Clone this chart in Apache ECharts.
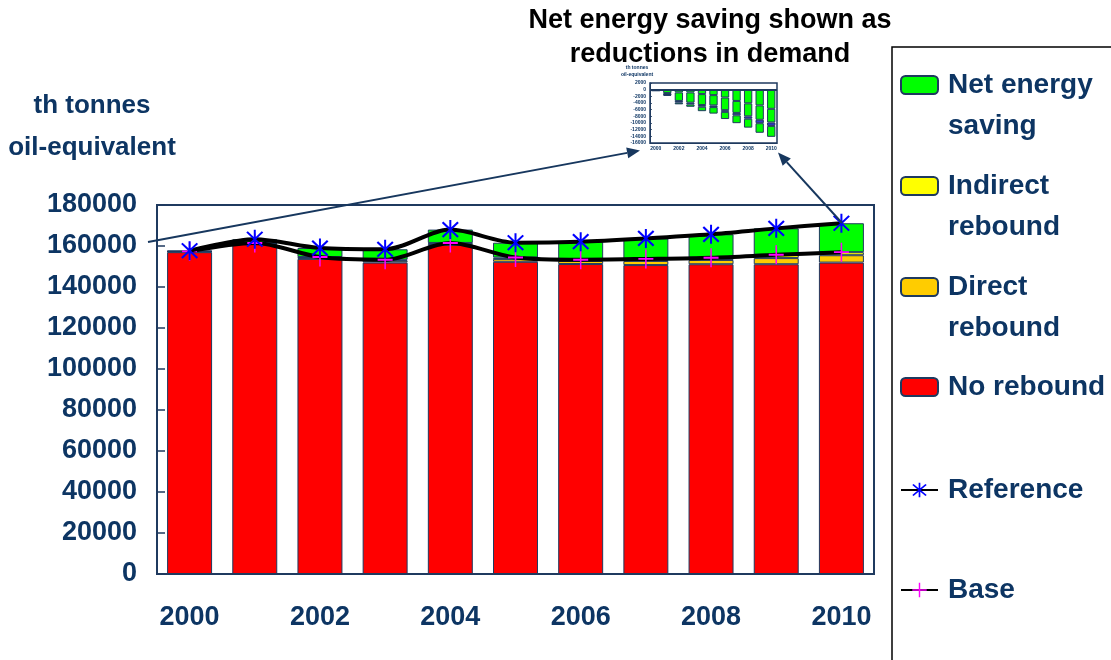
<!DOCTYPE html>
<html>
<head>
<meta charset="utf-8">
<script src="https://cdn.jsdelivr.net/npm/echarts@6/dist/echarts.min.js"></script>
<style>
  html, body { margin: 0; padding: 0; background: #ffffff; }
  #chart { width: 1111px; height: 660px; }
</style>
</head>
<body>
<div id="chart"></div>
<script>
// ---- data ----
const years = ['2000','2001','2002','2003','2004','2005','2006','2007','2008','2009','2010'];
const noRebound       = [157000, 161000, 153700, 151900, 160500, 152300, 151200, 150700, 151100, 151100, 151900];
const directRebound   = [300, 300, 600, 900, 700, 1400, 1500, 2000, 2100, 3000, 3600];
const indirectRebound = [100, 150, 300, 500, 300, 700, 600, 1000, 1100, 1600, 1500];
const netSaving       = [300, 1850, 4400, 5100, 6500, 7200, 8800, 10000, 11400, 12900, 14100];
const reference       = [157700, 163300, 159000, 158400, 168000, 161600, 162100, 163700, 165700, 168600, 171100];
const base            = [157400, 161450, 154600, 153300, 161500, 154400, 153300, 153700, 154300, 155700, 157000];
// inset: net saving shown as reductions in demand (stacked parts)
const insetPart1 = [0, -1030, -820, -820, -1330, -1640, -2360, -3380, -4100, -4720, -5740];
const insetPart2 = [0, -410, -2560, -3080, -3280, -3080, -3790, -3590, -3900, -4310, -4100];
const insetPart3 = [-300, -100, -510, -510, -510, -510, -510, -720, -720, -1030, -1030];
const insetPart4 = [0, -310, -510, -720, -1330, -1950, -2150, -2360, -2670, -2870, -3280];
const mainYTicks  = { min: 0, max: 180000, interval: 20000 };
const insetYTicks = { min: -16000, max: 2000, interval: 2000 };
const legendLabels = {
  'Net energy saving': 'Net energy\nsaving',
  'Indirect rebound': 'Indirect\nrebound',
  'Direct rebound': 'Direct\nrebound',
  'No rebound': 'No rebound',
  'Reference': 'Reference',
  'Base': 'Base'
};

// ---- styling ----
const NAVY = '#0d3563';
const EDGE = '#1f3a5f';
const FONT = '"Liberation Sans", Arial, Helvetica, sans-serif';
const STAR = 'path://M9,0 L11,0 L11,20 L9,20 Z M1.5,3 L3,1.5 L18.5,17 L17,18.5 Z M17,1.5 L18.5,3 L3,18.5 L1.5,17 Z';
const PLUS = 'path://M9,0 L11,0 L11,20 L9,20 Z M0,9 L20,9 L20,11 L0,11 Z';

const chart = echarts.init(document.getElementById('chart'), null, { renderer: 'canvas' });

function barSeries(name, data, color) {
  return {
    name: name, type: 'bar', stack: 'main', data: data,
    xAxisIndex: 0, yAxisIndex: 0,
    barCategoryGap: '31%',
    itemStyle: { color: color, borderColor: EDGE, borderWidth: 1 },
    emphasis: { disabled: true }
  };
}
function insetSeries(name, data, color, withZero) {
  const s = {
    name: name, type: 'bar', stack: 'inset', data: data,
    xAxisIndex: 1, yAxisIndex: 1,
    barCategoryGap: '28%',
    itemStyle: { color: color, borderColor: EDGE, borderWidth: 1 },
    emphasis: { disabled: true }
  };
  if (withZero) {
    s.markLine = {
      silent: true, symbol: 'none', animation: false,
      data: [{ yAxis: 0 }],
      label: { show: false },
      lineStyle: { color: EDGE, width: 2, type: 'solid' }
    };
  }
  return s;
}
function legendItem(name, c) {
  const two = legendLabels[name].indexOf('\n') >= 0;
  return {
    data: [name], left: 900, top: two ? c - 61.5 : c - 20.5,
    padding: 0, itemWidth: 37, itemHeight: 18, itemGap: 0,
    selectedMode: false,
    // a blank first line keeps the first text line level with the icon
    formatter: function (n) { return two ? ' \n' + legendLabels[n] : legendLabels[n]; },
    textStyle: {
      color: NAVY, fontSize: 28, fontWeight: 'bold', fontFamily: FONT,
      lineHeight: 41, padding: [0, 0, 0, 5]
    }
  };
}
function arrow(x1, y1, x2, y2) {
  const a = Math.atan2(y2 - y1, x2 - x1), L = 13, W = 5.5;
  const bx = x2 - L * Math.cos(a), by = y2 - L * Math.sin(a);
  const px = -Math.sin(a) * W, py = Math.cos(a) * W;
  return [
    { type: 'line', silent: true, shape: { x1: x1, y1: y1, x2: bx, y2: by },
      style: { stroke: '#17375e', lineWidth: 2 }, z: 20 },
    { type: 'polygon', silent: true,
      shape: { points: [[x2, y2], [bx + px, by + py], [bx - px, by - py]] },
      style: { fill: '#17375e' }, z: 20 }
  ];
}
const plain = function (v) { return String(v); };

const option = {
  animation: false,
  backgroundColor: '#ffffff',
  textStyle: { fontFamily: FONT },
  grid: [
    { left: 157, right: 237, top: 205, bottom: 86, show: true, borderColor: EDGE, borderWidth: 2, backgroundColor: '#ffffff' },
    { left: 650, top: 83, width: 127, height: 60, show: true, borderColor: EDGE, borderWidth: 1.5, backgroundColor: '#ffffff' }
  ],
  xAxis: [
    { type: 'category', data: years, gridIndex: 0,
      axisLine: { lineStyle: { color: EDGE, width: 2 } },
      axisTick: { show: false },
      axisLabel: { interval: 1, margin: 30, color: NAVY, fontSize: 27, fontWeight: 'bold', fontFamily: FONT }
    },
    { type: 'category', data: years, gridIndex: 1,
      axisLine: { onZero: false, lineStyle: { color: EDGE, width: 1 } },
      axisTick: { show: false },
      axisLabel: { interval: 1, margin: 3, color: NAVY, fontSize: 5, fontWeight: 'bold', fontFamily: FONT }
    }
  ],
  yAxis: [
    { type: 'value', gridIndex: 0, min: mainYTicks.min, max: mainYTicks.max, interval: mainYTicks.interval,
      name: 'th tonnes\noil-equivalent', nameLocation: 'end', nameGap: 36,
      nameTextStyle: { color: NAVY, fontSize: 26, fontWeight: 'bold', fontFamily: FONT, lineHeight: 42,
                       align: 'center', padding: [0, 130, 0, 0] },
      axisLine: { show: true, lineStyle: { color: EDGE, width: 2 } },
      axisTick: { show: true, inside: true, length: 8, lineStyle: { color: EDGE, width: 1.5 } },
      splitLine: { show: false },
      axisLabel: { margin: 20, color: NAVY, fontSize: 27, fontWeight: 'bold', fontFamily: FONT, formatter: plain }
    },
    { type: 'value', gridIndex: 1, min: insetYTicks.min, max: insetYTicks.max, interval: insetYTicks.interval,
      name: 'th tonnes\noil-equivalent', nameLocation: 'end', nameGap: 5,
      nameTextStyle: { color: NAVY, fontSize: 5, fontWeight: 'bold', fontFamily: FONT, lineHeight: 7,
                       align: 'center', padding: [0, 26, 0, 0] },
      axisLine: { show: true, lineStyle: { color: EDGE, width: 1 } },
      axisTick: { show: true, inside: true, length: 2, lineStyle: { color: EDGE, width: 0.8 } },
      splitLine: { show: false },
      axisLabel: { margin: 4, color: NAVY, fontSize: 5, fontWeight: 'bold', fontFamily: FONT, formatter: plain }
    }
  ],
  legend: [
    legendItem('Net energy saving', 85),
    legendItem('Indirect rebound', 186),
    legendItem('Direct rebound', 287),
    legendItem('No rebound', 387),
    legendItem('Reference', 490),
    legendItem('Base', 590)
  ],
  series: [
    barSeries('No rebound', noRebound, '#ff0000'),
    barSeries('Direct rebound', directRebound, '#ffcc00'),
    barSeries('Indirect rebound', indirectRebound, '#ffff00'),
    barSeries('Net energy saving', netSaving, '#00ff00'),
    { name: 'Base', type: 'line', data: base, xAxisIndex: 0, yAxisIndex: 0,
      smooth: 0.3, z: 5,
      symbol: PLUS, symbolSize: [15, 19],
      itemStyle: { color: '#ff00ff' },
      lineStyle: { color: '#000000', width: 4 },
      emphasis: { disabled: true }
    },
    { name: 'Reference', type: 'line', data: reference, xAxisIndex: 0, yAxisIndex: 0,
      smooth: 0.3, z: 6,
      symbol: STAR, symbolSize: [17, 19],
      itemStyle: { color: '#0000ff' },
      lineStyle: { color: '#000000', width: 4 },
      emphasis: { disabled: true }
    },
    insetSeries('Inset part 1', insetPart1, '#00ff00', true),
    insetSeries('Inset part 2', insetPart2, '#00ff00', false),
    insetSeries('Inset part 3', insetPart3, '#3333cc', false),
    insetSeries('Inset part 4', insetPart4, '#00ff00', false)
  ],
  graphic: [
    { type: 'rect', silent: true, shape: { x: 892, y: 47, width: 260, height: 700 },
      style: { fill: 'none', stroke: '#000000', lineWidth: 1.5 }, z: 0 },
    { type: 'text', silent: true, x: 710, y: 4,
      style: { text: 'Net energy saving shown as\nreductions in demand', align: 'center', verticalAlign: 'top',
               fill: '#000000', font: 'bold 27px ' + FONT, lineHeight: 34 }, z: 20 }
  ].concat(arrow(148, 242, 640, 150.5)).concat(arrow(842, 223, 778, 152.5))
};
chart.setOption(option);
</script>
</body>
</html>
